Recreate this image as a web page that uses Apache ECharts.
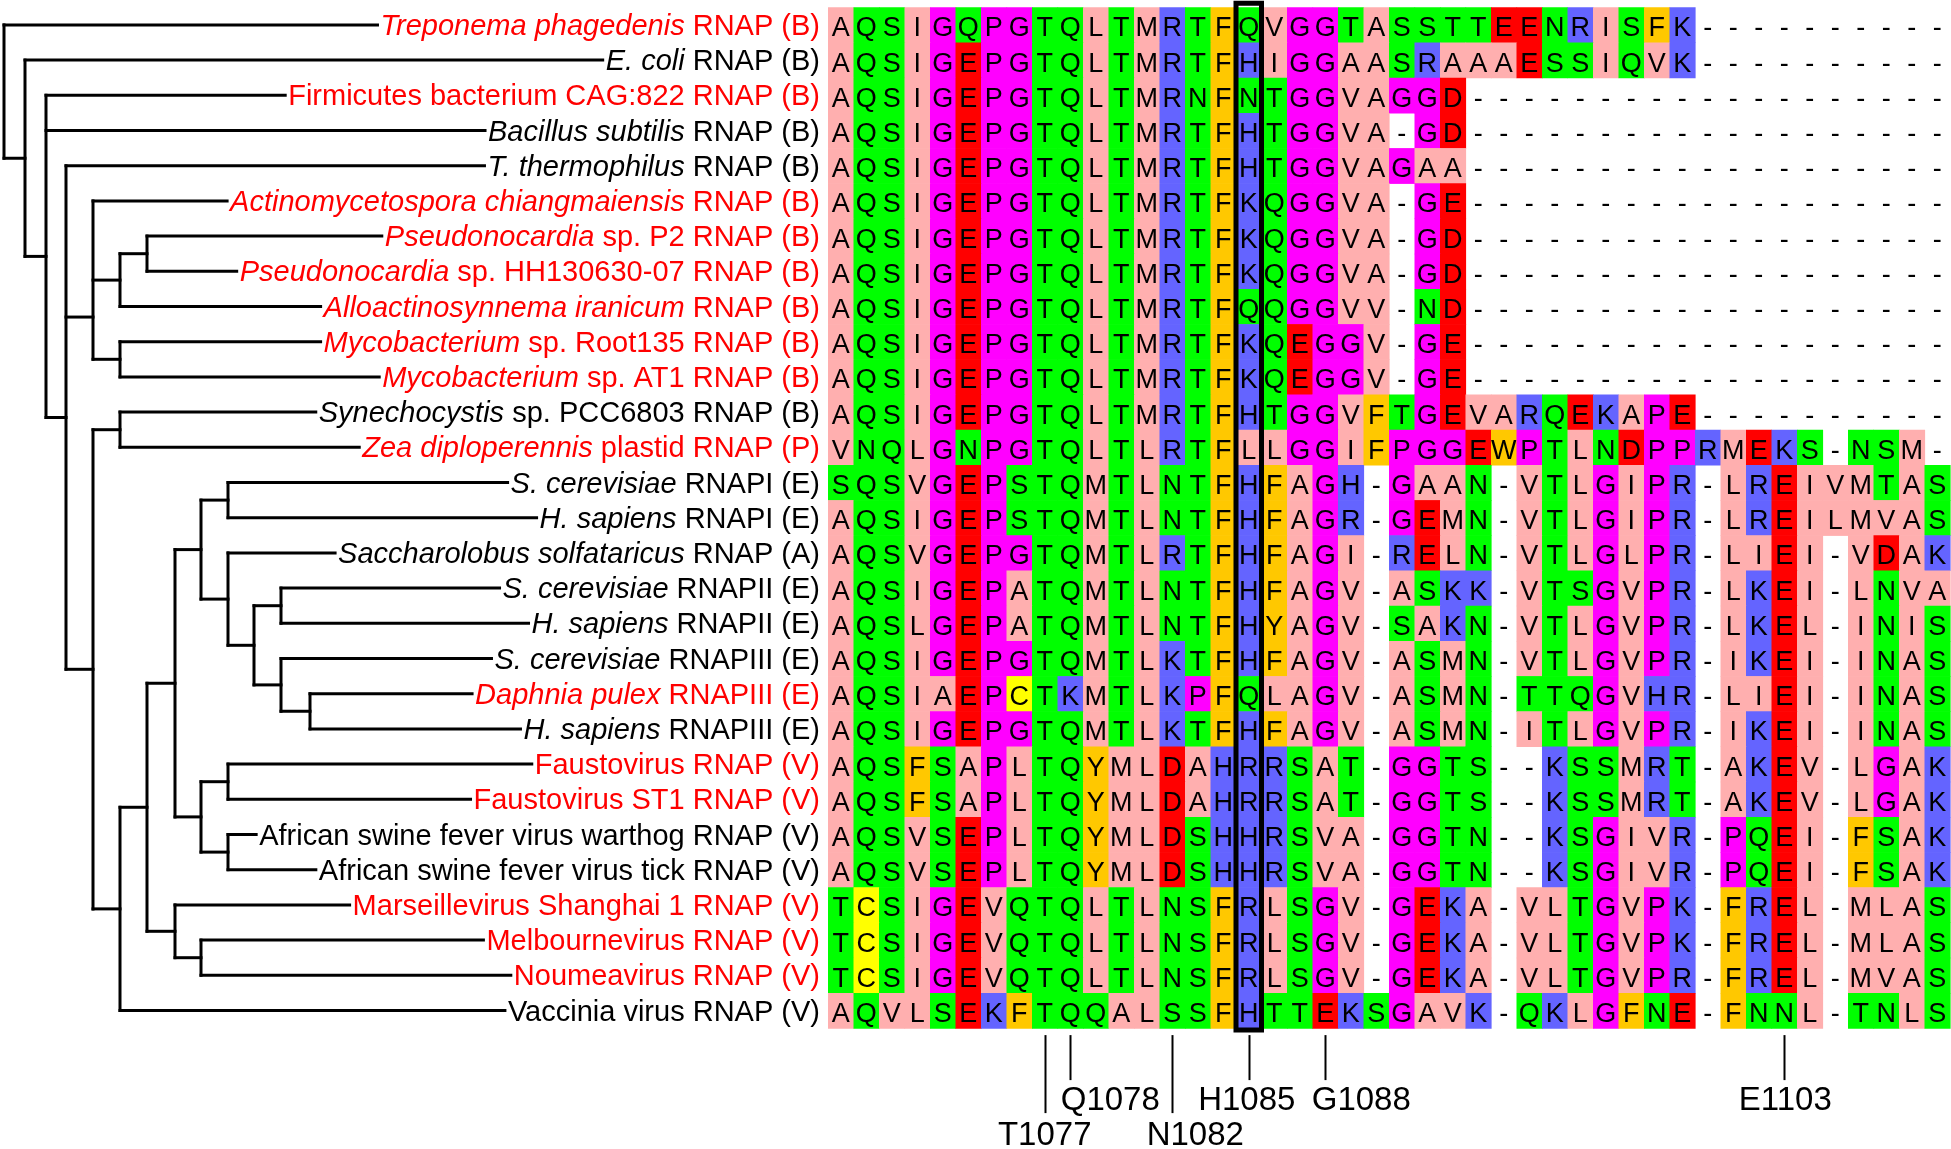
<!DOCTYPE html>
<html>
<head>
<meta charset="utf-8">
<title>RNAP trigger loop alignment</title>
<script src="https://cdn.jsdelivr.net/npm/echarts@6.0.0/dist/echarts.min.js"></script>
<style>
  html, body { margin: 0; padding: 0; background: #fff; }
  #main { width: 1951px; height: 1149px; }
</style>
</head>
<body>
<div id="main"></div>
<script>
// taxon labels: italic part + plain part, red = highlighted taxa
const taxaItalic = [
  'Treponema phagedenis', 'E. coli', '', 'Bacillus subtilis', 'T. thermophilus',
  'Actinomycetospora chiangmaiensis', 'Pseudonocardia', 'Pseudonocardia', 'Alloactinosynnema iranicum',
  'Mycobacterium', 'Mycobacterium', 'Synechocystis', 'Zea diploperennis',
  'S. cerevisiae', 'H. sapiens', 'Saccharolobus solfataricus', 'S. cerevisiae', 'H. sapiens',
  'S. cerevisiae', 'Daphnia pulex', 'H. sapiens',
  '', '', '', '', '', '', '', ''
];
const taxaPlain = [
  ' RNAP (B)', ' RNAP (B)', 'Firmicutes bacterium CAG:822 RNAP (B)', ' RNAP (B)', ' RNAP (B)',
  ' RNAP (B)', ' sp. P2 RNAP (B)', ' sp. HH130630-07 RNAP (B)', ' RNAP (B)',
  ' sp. Root135 RNAP (B)', ' sp. AT1 RNAP (B)', ' sp. PCC6803 RNAP (B)', ' plastid RNAP (P)',
  ' RNAPI (E)', ' RNAPI (E)', ' RNAP (A)', ' RNAPII (E)', ' RNAPII (E)',
  ' RNAPIII (E)', ' RNAPIII (E)', ' RNAPIII (E)',
  'Faustovirus RNAP (V)', 'Faustovirus ST1 RNAP (V)',
  'African swine fever virus warthog RNAP (V)', 'African swine fever virus tick RNAP (V)',
  'Marseillevirus Shanghai 1 RNAP (V)', 'Melbournevirus RNAP (V)', 'Noumeavirus RNAP (V)',
  'Vaccinia virus RNAP (V)'
];
const taxaRed = [1,0,1,0,0,1,1,1,1,1,1,0,1,0,0,0,0,0,0,1,0,1,1,0,0,1,1,1,0];

// aligned sequences, one per taxon (44 columns)
const alignment = [
  'AQSIGQPGTQLTMRTFQVGGTASSTTEENRISFK----------',
  'AQSIGEPGTQLTMRTFHIGGAASRAAAESSIQVK----------',
  'AQSIGEPGTQLTMRNFNTGGVAGGD-------------------',
  'AQSIGEPGTQLTMRTFHTGGVA-GD-------------------',
  'AQSIGEPGTQLTMRTFHTGGVAGAA-------------------',
  'AQSIGEPGTQLTMRTFKQGGVA-GE-------------------',
  'AQSIGEPGTQLTMRTFKQGGVA-GD-------------------',
  'AQSIGEPGTQLTMRTFKQGGVA-GD-------------------',
  'AQSIGEPGTQLTMRTFQQGGVV-ND-------------------',
  'AQSIGEPGTQLTMRTFKQEGGV-GE-------------------',
  'AQSIGEPGTQLTMRTFKQEGGV-GE-------------------',
  'AQSIGEPGTQLTMRTFHTGGVFTGEVARQEKAPE----------',
  'VNQLGNPGTQLTLRTFLLGGIFPGGEWPTLNDPPRMEKS-NSM-',
  'SQSVGEPSTQMTLNTFHFAGH-GAAN-VTLGIPR-LREIVMTAS',
  'AQSIGEPSTQMTLNTFHFAGR-GEMN-VTLGIPR-LREILMVAS',
  'AQSVGEPGTQMTLRTFHFAGI-RELN-VTLGLPR-LIEI-VDAK',
  'AQSIGEPATQMTLNTFHFAGV-ASKK-VTSGVPR-LKEI-LNVA',
  'AQSLGEPATQMTLNTFHYAGV-SAKN-VTLGVPR-LKEL-INIS',
  'AQSIGEPGTQMTLKTFHFAGV-ASMN-VTLGVPR-IKEI-INAS',
  'AQSIAEPCTKMTLKPFQLAGV-ASMN-TTQGVHR-LIEI-INAS',
  'AQSIGEPGTQMTLKTFHFAGV-ASMN-ITLGVPR-IKEI-INAS',
  'AQSFSAPLTQYMLDAHRRSAT-GGTS--KSSMRT-AKEV-LGAK',
  'AQSFSAPLTQYMLDAHRRSAT-GGTS--KSSMRT-AKEV-LGAK',
  'AQSVSEPLTQYMLDSHHRSVA-GGTN--KSGIVR-PQEI-FSAK',
  'AQSVSEPLTQYMLDSHHRSVA-GGTN--KSGIVR-PQEI-FSAK',
  'TCSIGEVQTQLTLNSFRLSGV-GEKA-VLTGVPK-FREL-MLAS',
  'TCSIGEVQTQLTLNSFRLSGV-GEKA-VLTGVPK-FREL-MLAS',
  'TCSIGEVQTQLTLNSFRLSGV-GEKA-VLTGVPR-FREL-MVAS',
  'AQVLSEKFTQQALSSFHTTEKSGAVK-QKLGFNE-FNNL-TNLS'
];

// tree: d = node depth, c = children (numbers are taxon rows), at = drawn row if not centred
const tree = { d: 4, c: [0, { d: 25, c: [1, { d: 46, c: [2, 3, { d: 66, c: [4,
  { d: 93, at: 8.3, c: [5, { d: 120, c: [{ d: 147, c: [6, 7] }, 8] }, { d: 120, c: [9, 10] }] },
  { d: 93, c: [{ d: 120, c: [11, 12] }, { d: 120, c: [{ d: 147, c: [
    { d: 175, c: [
      { d: 201, c: [{ d: 228, c: [13, 14] }, { d: 228, c: [15, { d: 254, c: [
        { d: 281, c: [16, 17] }, { d: 281, c: [18, { d: 310, c: [19, 20] }] }] }] }] },
      { d: 201, c: [{ d: 228, c: [21, 22] }, { d: 228, c: [23, 24] }] }] },
    { d: 175, c: [25, { d: 201, c: [26, 27] }] }] }, 28] }] }] }] }] }] };

// highlighted column and residue markers (0-based columns, S. cerevisiae RNAPII numbering)
const highlightCol = 16;
const markerCols = [8, 9, 13, 16, 19, 37];
const markerLabels = ['T1077', 'Q1078', 'N1082', 'H1085', 'G1088', 'E1103'];

// Zappo colour scheme
const zappo = {
  A: '#ffafaf', I: '#ffafaf', L: '#ffafaf', M: '#ffafaf', V: '#ffafaf',
  F: '#ffc800', W: '#ffc800', Y: '#ffc800',
  K: '#6464ff', R: '#6464ff', H: '#6464ff',
  D: '#ff0000', E: '#ff0000',
  S: '#00ff00', T: '#00ff00', N: '#00ff00', Q: '#00ff00',
  P: '#ff00ff', G: '#ff00ff',
  C: '#ffff00'
};

const FONT = '"Liberation Sans", Arial, sans-serif';
const LABEL_SIZE = 29;
const LABEL_EDGE = 820;   // right edge of taxon labels, tree axis units
// marker label placement: [level, horizontal shift]
const markerLayout = { T1077: [1, 0], Q1078: [0, 40], N1082: [1, 23], H1085: [0, -2], G1088: [0, 36], E1103: [0, 1] };

const nRows = alignment.length;
const nCols = alignment[0].length;

const measureCtx = document.createElement('canvas').getContext('2d');
function textWidth(str, italic) {
  measureCtx.font = (italic ? 'italic ' : '') + LABEL_SIZE + 'px "Liberation Sans"';
  return measureCtx.measureText(str).width;
}

// flatten tree into segments
const segs = [];
function place(node, parentDepth) {
  if (typeof node === 'number') {
    segs.push({ x1: parentDepth, y1: node, leaf: node });
    return node;
  }
  const ys = node.c.map(ch => place(ch, node.d));
  const top = Math.min.apply(null, ys);
  const bot = Math.max.apply(null, ys);
  segs.push({ x1: node.d, y1: top, x2: node.d, y2: bot });
  const y = node.at != null ? node.at : (top + bot) / 2;
  if (parentDepth != null) segs.push({ x1: parentDepth, y1: y, x2: node.d, y2: y });
  return y;
}
place(tree, null);

const cells = [];
alignment.forEach((seq, r) => {
  for (let c = 0; c < seq.length; c++) cells.push({ row: r, col: c, ch: seq[c] });
});

const lineStyle = { stroke: '#000', lineWidth: 3, lineCap: 'square' };

const chart = echarts.init(document.getElementById('main'), null, { renderer: 'canvas' });
chart.setOption({
  animation: false,
  backgroundColor: '#fff',
  grid: [
    { left: 0, top: 7.3, width: 830, height: 35.2 * nRows },
    { left: 828, top: 7.3, width: 1122, height: 35.2 * nRows }
  ],
  xAxis: [
    { gridIndex: 0, type: 'value', min: 0, max: 830, show: false },
    { gridIndex: 1, type: 'value', min: -0.5, max: nCols - 0.5, show: false }
  ],
  yAxis: [
    { gridIndex: 0, type: 'value', min: -0.5, max: nRows - 0.5, inverse: true, show: false },
    { gridIndex: 1, type: 'value', min: -0.5, max: nRows - 0.5, inverse: true, show: false }
  ],
  series: [
    {
      // tree branches and taxon labels
      type: 'custom',
      xAxisIndex: 0,
      yAxisIndex: 0,
      clip: false,
      data: segs.map((s, i) => [s.x1, s.y1, i]),
      renderItem: function (params, api) {
        const s = segs[params.dataIndex];
        const p1 = api.coord([s.x1, s.y1]);
        if (s.leaf != null) {
          const r = s.leaf;
          const right = api.coord([LABEL_EDGE, r])[0];
          const wPlain = textWidth(taxaPlain[r], false);
          const wItal = taxaItalic[r] ? textWidth(taxaItalic[r], true) : 0;
          const color = taxaRed[r] ? '#ff0000' : '#000';
          const ty = p1[1] + 2;
          const children = [
            { type: 'line', shape: { x1: p1[0], y1: p1[1], x2: right - wPlain - wItal - 3, y2: p1[1] }, style: lineStyle },
            { type: 'text', x: right, y: ty, style: { text: taxaPlain[r], fill: color, fontSize: LABEL_SIZE, fontFamily: FONT, align: 'right', verticalAlign: 'middle' } }
          ];
          if (taxaItalic[r]) {
            children.push({ type: 'text', x: right - wPlain, y: ty, style: { text: taxaItalic[r], fill: color, fontSize: LABEL_SIZE, fontStyle: 'italic', fontFamily: FONT, align: 'right', verticalAlign: 'middle' } });
          }
          return { type: 'group', children: children };
        }
        const p2 = api.coord([s.x2, s.y2]);
        return { type: 'line', shape: { x1: p1[0], y1: p1[1], x2: p2[0], y2: p2[1] }, style: lineStyle };
      }
    },
    {
      // alignment cells
      type: 'custom',
      xAxisIndex: 1,
      yAxisIndex: 1,
      clip: false,
      data: cells.map(c => [c.col, c.row]),
      renderItem: function (params, api) {
        const c = cells[params.dataIndex];
        const p = api.coord([c.col, c.row]);
        const sz = api.size([1, 1]);
        const children = [];
        if (zappo[c.ch]) {
          children.push({ type: 'rect', shape: { x: p[0] - sz[0] / 2, y: p[1] - sz[1] / 2, width: sz[0] + 0.6, height: sz[1] + 0.6 }, style: { fill: zappo[c.ch] } });
        }
        children.push({ type: 'text', x: p[0], y: p[1] + 4, style: { text: c.ch, fill: '#000', fontSize: 27, fontFamily: FONT, align: 'center', verticalAlign: 'middle' } });
        return { type: 'group', children: children };
      }
    },
    {
      // box round the highlighted column
      type: 'custom',
      xAxisIndex: 1,
      yAxisIndex: 1,
      clip: false,
      z: 5,
      data: [[highlightCol, 0]],
      renderItem: function (params, api) {
        const col = api.value(0);
        const tl = api.coord([col - 0.5, -0.5]);
        const br = api.coord([col + 0.5, nRows - 0.5]);
        return { type: 'rect', shape: { x: tl[0], y: tl[1] - 4, width: br[0] - tl[0], height: br[1] - tl[1] + 6 }, style: { fill: 'none', stroke: '#000', lineWidth: 5 } };
      }
    },
    {
      // residue markers under the alignment
      type: 'custom',
      xAxisIndex: 1,
      yAxisIndex: 1,
      clip: false,
      data: markerCols.map((c, i) => [c, i]),
      renderItem: function (params, api) {
        const name = markerLabels[params.dataIndex];
        const lay = markerLayout[name];
        const p = api.coord([api.value(0), nRows - 0.5]);
        const x = Math.round(p[0]) + 0.5;
        const yEnd = p[1] + (lay[0] ? 85 : 52);
        const yText = p[1] + (lay[0] ? 108 : 73);
        return {
          type: 'group',
          children: [
            { type: 'line', shape: { x1: x, y1: p[1] + 7, x2: x, y2: yEnd }, style: { stroke: '#000', lineWidth: 2 } },
            { type: 'text', x: p[0] + lay[1], y: yText, style: { text: name, fill: '#000', fontSize: 33, fontFamily: FONT, align: 'center', verticalAlign: 'middle' } }
          ]
        };
      }
    }
  ]
});
window.addEventListener('resize', () => chart.resize());
</script>
</body>
</html>
